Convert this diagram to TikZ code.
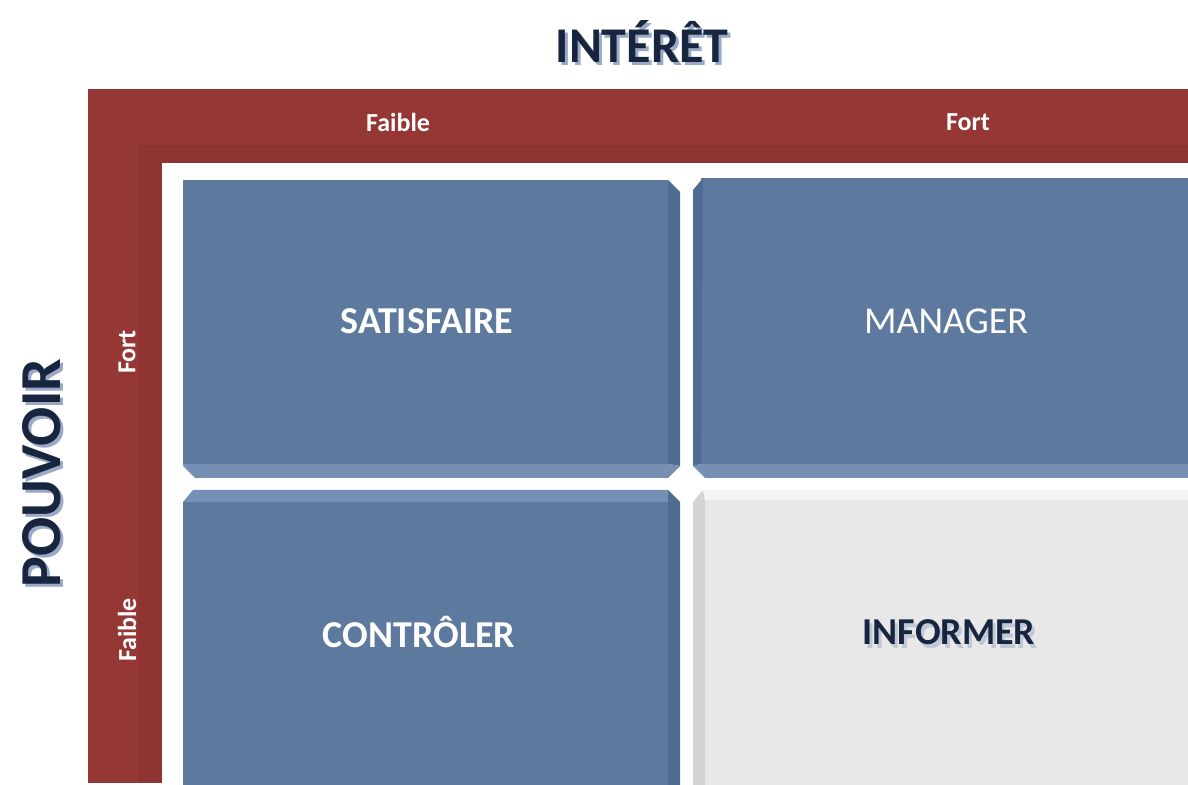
\documentclass[tikz,border=0pt]{standalone}
\usepackage{fontspec}
\setmainfont{Carlito}
\definecolor{bandred}{HTML}{953735}
\definecolor{bandshade}{HTML}{8F3432}
\definecolor{boxblue}{HTML}{5D7A9E}
\definecolor{boxdark}{HTML}{506C92}
\definecolor{boxlight}{HTML}{7690B3}
\definecolor{boxgrey}{HTML}{E8E8E8}
\definecolor{greydark}{HTML}{D3D3D3}
\definecolor{greylight}{HTML}{F4F4F4}
\definecolor{titlenavy}{HTML}{17253F}
\definecolor{titleshadow}{HTML}{9AAAC6}
\tikzset{
  axistitle/.style={font=\fontsize{25}{30}\selectfont\bfseries, text=titlenavy},
  axisshade/.style={font=\fontsize{25}{30}\selectfont\bfseries, text=titleshadow},
  level/.style={font=\fontsize{13}{15}\selectfont\bfseries, text=white},
  quadrant/.style={font=\fontsize{19}{23}\selectfont\bfseries, text=white},
}

\begin{document}
\begin{tikzpicture}[x=0.5pt, y=-0.5pt]
    \useasboundingbox (0,0) rectangle (1188,785);
    % red frame
    \fill[bandred] (88,89) rectangle (1188,163);
    \fill[bandred] (88,163) rectangle (162,783);
    \fill[bandshade] (138,145) rectangle (1188,163);
    \fill[bandshade] (138,145) rectangle (162,783);
    % top left box
    \fill[boxblue] (183,180) rectangle (668,464);
    \fill[boxdark] (668,180) -- (680,192) -- (680,466) -- (668,464) -- cycle;
    \fill[boxlight] (183,464) -- (668,464) -- (680,466) -- (668,478) -- (195,478) -- (183,466) -- cycle;
    % top right box
    \fill[boxblue] (701,178) rectangle (1188,464);
    \fill[boxdark] (693,190) -- (703,178) -- (701,464) -- (693,466) -- cycle;
    \fill[boxlight] (693,466) -- (701,464) -- (1188,464) -- (1188,478) -- (705,478) -- cycle;
    % bottom left box
    \fill[boxblue] (183,502) rectangle (668,785);
    \fill[boxlight] (183,502) -- (193,490) -- (668,490) -- (668,502) -- cycle;
    \fill[boxdark] (668,490) -- (680,502) -- (680,785) -- (668,785) -- cycle;
    % bottom right box
    \fill[boxgrey] (705,500) rectangle (1188,785);
    \fill[greydark] (693,502) -- (703,490) -- (705,500) -- (705,785) -- (693,785) -- cycle;
    \fill[greylight] (703,490) -- (1188,490) -- (1188,500) -- (705,500) -- cycle;
    % axis titles
    \node[axisshade] (interetshade) at (645,45) {INTÉRÊT};
    \node[axistitle] (interet) at (642,42) {INTÉRÊT};
    \node[axisshade, font=\fontsize{29}{34}\selectfont\bfseries, rotate=90] (pouvoirshade) at (45,476) {POUVOIR};
    \node[axistitle, font=\fontsize{29}{34}\selectfont\bfseries, rotate=90] (pouvoir) at (42,473) {POUVOIR};
    % levels
    \node[level] (faibletop) at (398,122) {Faible};
    \node[level] (forttop) at (968,122) {Fort};
    \node[level, rotate=90] (fortleft) at (127,352) {Fort};
    \node[level, rotate=90] (faibleleft) at (127,630) {Faible};
    % quadrants
    \node[quadrant] (satisfaire) at (427,321) {SATISFAIRE};
    \node[quadrant, font=\fontsize{19}{23}\selectfont] (manager) at (946,321) {MANAGER};
    \node[quadrant] (controler) at (419,632) {CONTRÔLER};
    \node[quadrant, text=titleshadow, opacity=0.5] (informershade) at (952,636) {INFORMER};
    \node[quadrant, text=titlenavy] (informer) at (949,632) {INFORMER};
\end{tikzpicture}
\end{document}
